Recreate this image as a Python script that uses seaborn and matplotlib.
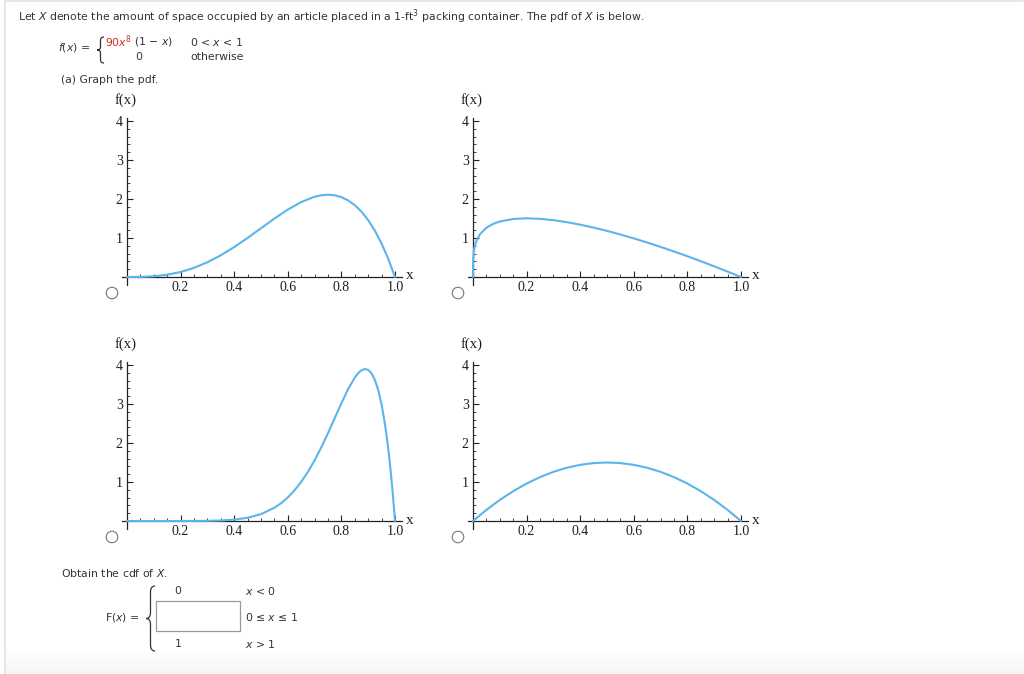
import numpy as np
import pandas as pd
import matplotlib
matplotlib.use("Agg")
import matplotlib.pyplot as plt
import seaborn as sns
from matplotlib.patches import Rectangle, Ellipse, PathPatch
from matplotlib.path import Path
from matplotlib.lines import Line2D

sns.set_theme(style="white")
plt.rcParams['font.family'] = ['DejaVu Sans']
plt.rcParams['mathtext.fontset'] = 'dejavusans'

# ---- data ----
x_a = [0, 0.05, 0.1, 0.15, 0.2, 0.25, 0.3, 0.35, 0.4, 0.45, 0.5, 0.55, 0.6, 0.65, 0.7,
       0.725, 0.75, 0.775, 0.8, 0.825, 0.85, 0.875, 0.9, 0.925, 0.95, 0.975, 1.0]
y_a = [0, 0.0024, 0.018, 0.0574, 0.128, 0.234, 0.378, 0.557, 0.768, 1.002, 1.25, 1.497, 1.728,
       1.922, 2.058, 2.096, 2.109, 2.095, 2.048, 1.965, 1.842, 1.675, 1.458, 1.187, 0.857, 0.463, 0]

x_b = [0, 0.0005, 0.0025, 0.005, 0.01, 0.025, 0.05, 0.075, 0.1, 0.15, 0.2, 0.25, 0.3, 0.35, 0.4,
       0.45, 0.5, 0.55, 0.6, 0.65, 0.7, 0.75, 0.8, 0.85, 0.9, 0.95, 1.0]
y_b = [0, 0.420, 0.627, 0.744, 0.880, 1.090, 1.2635, 1.3614, 1.4234, 1.4877, 1.5046, 1.4915,
       1.4570, 1.4062, 1.3420, 1.2669, 1.1825, 1.0900, 0.9901, 0.8839, 0.7718, 0.6543, 0.5320,
       0.4051, 0.2739, 0.1388, 0]

x_c = [0, 0.1, 0.2, 0.3, 0.35, 0.4, 0.45, 0.5, 0.55, 0.575, 0.6, 0.625, 0.65, 0.675, 0.7, 0.725,
       0.75, 0.775, 0.8, 0.825, 0.85, 0.8625, 0.875, 0.8875, 0.9, 0.9125, 0.925, 0.9375, 0.95,
       0.9625, 0.97, 0.975, 0.98, 0.985, 0.99, 0.995, 1.0]
y_c = [0, 0, 0.0002, 0.0041, 0.0132, 0.0354, 0.0832, 0.1758, 0.3391, 0.4571, 0.6047, 0.7858,
       1.0037, 1.2605, 1.5565, 1.8892, 2.2525, 2.6354, 3.0199, 3.380, 3.6786, 3.7898, 3.8656,
       3.897, 3.8742, 3.7854, 3.6178, 3.3565, 2.9854, 2.4859, 2.1161, 1.8375, 1.5314, 1.1963,
       0.8305, 0.4323, 0]

x_d = [0, 0.05, 0.1, 0.15, 0.2, 0.25, 0.3, 0.35, 0.4, 0.45, 0.5, 0.55, 0.6, 0.65, 0.7, 0.75,
       0.8, 0.85, 0.9, 0.95, 1.0]
y_d = [0, 0.285, 0.54, 0.765, 0.96, 1.125, 1.26, 1.365, 1.44, 1.485, 1.5, 1.485, 1.44, 1.365,
       1.26, 1.125, 0.96, 0.765, 0.54, 0.285, 0]

x_ticks = [0.2, 0.4, 0.6, 0.8, 1.0]
x_tick_labels = ["0.2", "0.4", "0.6", "0.8", "1.0"]
y_ticks = [1, 2, 3, 4]
y_tick_labels = ["1", "2", "3", "4"]

W, H = 1024, 674
fig = plt.figure(figsize=(W / 100, H / 100), dpi=100)
fig.patch.set_facecolor("white")

TXT = "#333333"
DARK = "#1e1e1e"
BLUE = "#5bb5ea"
SERIF = ["Liberation Serif", "DejaVu Serif"]


def fx(px):
    return px / W


def fy(py):
    return 1 - py / H


def brace(x_right, x_tip, y_top, y_bot, lw=0.9):
    """Curly brace drawn in pixel coordinates (y downward)."""
    xm = (x_right + x_tip) / 2.0
    ym = (y_top + y_bot) / 2.0
    r = min(6.0, (y_bot - y_top) / 8.0)
    pts = [(x_right, y_top), (xm, y_top), (xm, y_top + r),
           (xm, ym - r),
           (xm, ym), (x_tip, ym),
           (xm, ym), (xm, ym + r),
           (xm, y_bot - r),
           (xm, y_bot), (x_right, y_bot)]
    codes = [Path.MOVETO, Path.CURVE3, Path.CURVE3, Path.LINETO,
             Path.CURVE3, Path.CURVE3, Path.CURVE3, Path.CURVE3,
             Path.LINETO, Path.CURVE3, Path.CURVE3]
    verts = [(fx(a), fy(b)) for a, b in pts]
    fig.add_artist(PathPatch(Path(verts, codes), transform=fig.transFigure,
                             facecolor="none", edgecolor=TXT, lw=lw))


# light page border
fig.add_artist(Line2D([fx(5), fx(1023)], [fy(1), fy(1)], color="#e2e2e2", lw=1.2))
fig.add_artist(Line2D([fx(5), fx(5)], [fy(1), fy(674)], color="#e2e2e2", lw=1.2))

# bottom gradient band
gax = fig.add_axes([fx(6), 0, 1 - fx(6), 24 / H])
grad = np.linspace(0, 1, 50).reshape(-1, 1)
gax.imshow(grad, aspect="auto", cmap=matplotlib.colors.LinearSegmentedColormap.from_list(
    "g", ["#f6f6f6", "#ffffff"]), extent=[0, 1, 0, 1], origin="lower")
gax.set_axis_off()

# header text
fs = 7.8
fig.text(fx(18), fy(17), r"Let $X$ denote the amount of space occupied by an article placed in a 1-ft$^3$ packing container. The pdf of $X$ is below.",
         fontsize=fs, color=TXT, va="center", ha="left")
fig.text(fx(58), fy(47), r"$f(x)$ =", fontsize=fs, color=TXT, va="center", ha="left")
brace(104, 97, 37, 63, lw=0.9)
fig.text(fx(105), fy(42), r"90$x^8$", fontsize=fs, color="#d42a20", va="center", ha="left")
fig.text(fx(134), fy(42), r"(1 − $x$)", fontsize=fs, color=TXT, va="center", ha="left")
fig.text(fx(139), fy(57), "0", fontsize=fs, color=TXT, va="center", ha="center")
fig.text(fx(190), fy(42), r"0 < $x$ < 1", fontsize=fs, color=TXT, va="center", ha="left")
fig.text(fx(190), fy(57), "otherwise", fontsize=fs, color=TXT, va="center", ha="left")
fig.text(fx(61), fy(80), "(a) Graph the pdf.", fontsize=fs, color=TXT, va="center", ha="left")

# plots
XPX = 268.0
YPX = 39.0
XL = (-0.019, 1.026)
YL = (-0.205, 4.08)
origins = [(127, 277), (473, 277), (127, 521), (473, 521)]
curves = [(x_a, y_a), (x_b, y_b), (x_c, y_c), (x_d, y_d)]

for (ox, oy), (xs, ys) in zip(origins, curves):
    left_px = ox + XL[0] * XPX
    w_px = (XL[1] - XL[0]) * XPX
    top_px = oy - YL[1] * YPX
    h_px = (YL[1] - YL[0]) * YPX
    ax = fig.add_axes([fx(left_px), fy(top_px + h_px), w_px / W, h_px / H])
    ax.set_facecolor("none")
    df = pd.DataFrame({"x": xs, "y": ys})
    sns.lineplot(data=df, x="x", y="y", ax=ax, color=BLUE, linewidth=1.5, zorder=3)
    ax.set_xlim(*XL)
    ax.set_ylim(*YL)
    for s in ["top", "right"]:
        ax.spines[s].set_visible(False)
    ax.spines["left"].set_position(("data", 0))
    ax.spines["bottom"].set_position(("data", 0))
    for s in ["left", "bottom"]:
        ax.spines[s].set_color("#222222")
        ax.spines[s].set_linewidth(0.9)
    ax.set_xticks(x_ticks)
    ax.set_xticklabels(x_tick_labels)
    ax.set_yticks(y_ticks)
    ax.set_yticklabels(y_tick_labels)
    ax.set_xticks(np.arange(0.05, 1.0, 0.05), minor=True)
    ax.set_yticks(np.arange(0.2, 4.05, 0.2), minor=True)
    ax.tick_params(axis="both", which="both", bottom=True, left=True, top=False, right=False)
    ax.tick_params(axis="both", which="major", direction="in", length=4.5, width=0.8,
                   color="#222222", labelsize=10, labelcolor=DARK, pad=3)
    ax.tick_params(axis="both", which="minor", direction="in", length=2.5, width=0.6,
                   color="#222222")
    for lab in ax.get_xticklabels() + ax.get_yticklabels():
        lab.set_family(SERIF)
    ax.set_xlabel("")
    ax.set_ylabel("")
    ax.grid(False)
    fig.text(fx(ox + 283), fy(oy - 1), "x", family=SERIF, fontsize=11, color=DARK,
             va="center", ha="center")
    fig.text(fx(ox - 1), fy(oy - 177), "f(x)", family=SERIF, fontsize=10.5, color=DARK,
             va="center", ha="center")
    fig.add_artist(Ellipse((fx(ox - 15), fy(oy + 16)), 11.5 / W, 11.5 / H,
                           transform=fig.transFigure,
                           facecolor="white", edgecolor="#777777", lw=0.8))

# cdf section
fig.text(fx(61), fy(573), r"Obtain the cdf of $X$.", fontsize=fs, color=TXT, va="center", ha="left")
fig.text(fx(178), fy(591), "0", fontsize=fs, color=TXT, va="center", ha="center")
fig.text(fx(245), fy(591), r"$x$ < 0", fontsize=fs, color=TXT, va="center", ha="left")
fig.text(fx(105), fy(617), r"F($x$) =", fontsize=fs, color=TXT, va="center", ha="left")
brace(155, 146, 586, 651, lw=0.9)
fig.add_artist(Rectangle((fx(156), fy(631)), 84 / W, 30 / H, transform=fig.transFigure,
                         facecolor="white", edgecolor="#9a9a9a", lw=0.9))
fig.text(fx(245), fy(617), r"0 ≤ $x$ ≤ 1", fontsize=fs, color=TXT, va="center", ha="left")
fig.text(fx(178), fy(644), "1", fontsize=fs, color=TXT, va="center", ha="center")
fig.text(fx(245), fy(644), r"$x$ > 1", fontsize=fs, color=TXT, va="center", ha="left")

fig.savefig("out.png", dpi=100, facecolor="white")
